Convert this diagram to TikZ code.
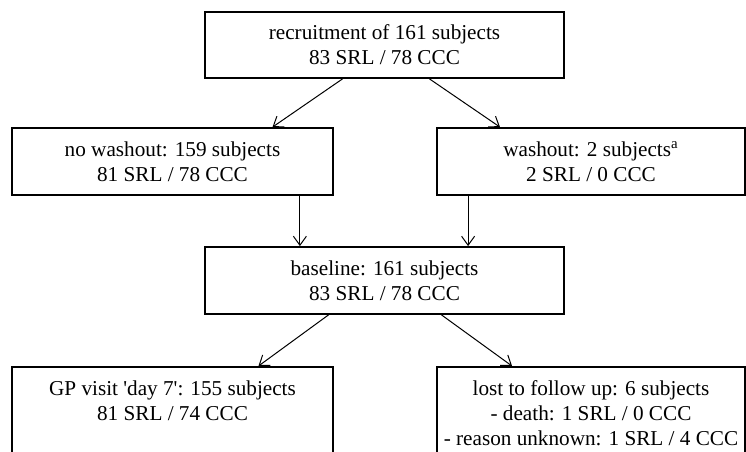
\documentclass[tikz,border=0pt]{standalone}
\usepackage{fontspec}
\setmainfont{Liberation Serif}
\usepackage{tikz}
\usetikzlibrary{calc,arrows.meta}

\tikzset{
  box/.style={draw, line width=0.9pt, align=center, inner sep=2pt,
    font=\fontsize{10.6pt}{12.4pt}\selectfont},
  openbox/.style={box, anchor=north, inner ysep=7pt, text depth=45pt},
  arr/.style={line width=0.5pt, -{Straight Barb[length=4.5pt,width=6.5pt]}}
}

\begin{document}
\begin{tikzpicture}[x=0.5pt,y=-0.5pt]
\useasboundingbox (0,0) rectangle (746,451);
\clip (0,0) rectangle (746,451);
% boxes
\node[box, minimum width=179.5pt, minimum height=33pt] (recruit) at (384.5,45) {recruitment of 161 subjects\\ 83 SRL / 78 CCC};
\node[box, minimum width=160.5pt, minimum height=33.5pt] (nowash) at (172.5,161.5) {no washout: 159 subjects\\ 81 SRL / 78 CCC};
\node[box, minimum width=154pt, minimum height=33.5pt] (wash) at (591,161.5) {washout: 2 subjects\textsuperscript{a}\\ 2 SRL / 0 CCC};
\node[box, minimum width=179.5pt, minimum height=33.5pt] (base) at (384.5,280.5) {baseline: 161 subjects\\ 83 SRL / 78 CCC};
\node[openbox, minimum width=160.5pt] (gp) at (172.5,366) {GP visit \textquotesingle day 7\textquotesingle: 155 subjects\\ 81 SRL / 74 CCC};
\node[openbox, minimum width=154pt] (lost) at (591,366) {lost to follow up: 6 subjects\\ - death: 1 SRL / 0 CCC\\ - reason unknown: 1 SRL / 4 CCC};
% arrows
\draw[arr] ($(recruit.south)+(-42,0)$) -- ($(nowash.north)+(100,0)$);
\draw[arr] ($(recruit.south)+(45,0)$) -- ($(wash.north)+(-91,0)$);
\draw[arr] ($(nowash.south east)+(-34,0)$) coordinate (a1) -- (a1 |- base.north);
\draw[arr] ($(wash.south west)+(32,0)$) coordinate (a2) -- (a2 |- base.north);
\draw[arr] ($(base.south)+(-56,0)$) -- ($(gp.north)+(86,0)$);
\draw[arr] ($(base.south)+(57,0)$) -- ($(lost.north)+(-79,0)$);
\end{tikzpicture}
\end{document}
